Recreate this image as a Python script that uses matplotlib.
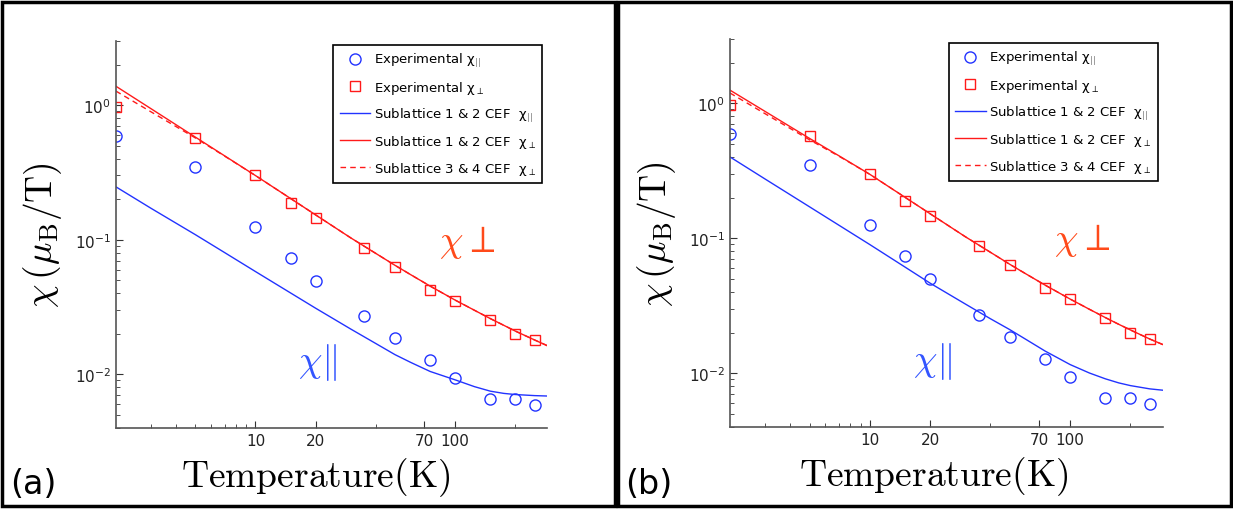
import matplotlib
matplotlib.use("Agg")
import matplotlib.pyplot as plt
from matplotlib.patches import Rectangle
from matplotlib.ticker import FixedLocator, NullFormatter, LogLocator, LogFormatterMathtext

plt.rcParams['mathtext.fontset'] = 'cm'
plt.rcParams['font.family'] = 'DejaVu Sans'

# measured susceptibility
temps = [2, 5, 10, 15, 20, 35, 50, 75, 100, 150, 200, 250]
chi_perp_exp = [0.97, 0.57, 0.30, 0.188, 0.146, 0.087, 0.063, 0.0426, 0.0353, 0.0255, 0.020, 0.0179]
chi_par_exp = [0.59, 0.347, 0.125, 0.0736, 0.0497, 0.0269, 0.0185, 0.0127, 0.0094, 0.00653, 0.00653, 0.0059]

# CEF model curves
temps_fit = [2, 3, 5, 7, 10, 15, 20, 30, 40, 50, 60, 75, 100, 125, 150, 175, 200, 250, 290]
perp_12_a = [1.38, 0.939, 0.578, 0.420, 0.2995, 0.2022, 0.1529, 0.1032, 0.0792, 0.0645, 0.0549,
             0.0452, 0.0356, 0.0299, 0.02595, 0.02315, 0.02097, 0.0180, 0.0163]
perp_34_a = [1.27, 0.89, 0.57, 0.418, 0.2995, 0.2022, 0.1529, 0.1032, 0.0792, 0.0645, 0.0549,
             0.0452, 0.0356, 0.0299, 0.02595, 0.02315, 0.02097, 0.0180, 0.0163]
par_12_a = [0.247, 0.171, 0.109, 0.0803, 0.058, 0.0402, 0.031, 0.0217, 0.01696, 0.0140, 0.01225,
            0.0105, 0.0091, 0.0081, 0.0075, 0.00722, 0.00708, 0.00695, 0.0069]

perp_12_b = [1.25, 0.868, 0.548, 0.408, 0.297, 0.2005, 0.1516, 0.1024, 0.0786, 0.064, 0.0545,
             0.0449, 0.0354, 0.0297, 0.0258, 0.0230, 0.0209, 0.0179, 0.0163]
perp_34_b = [1.19, 0.835, 0.535, 0.405, 0.297, 0.2005, 0.1516, 0.1024, 0.0786, 0.064, 0.0545,
             0.0449, 0.0354, 0.0297, 0.0258, 0.0230, 0.0209, 0.0179, 0.0163]
par_12_b = [0.40, 0.274, 0.1706, 0.1248, 0.0896, 0.0610, 0.0464, 0.0325, 0.0253, 0.0210, 0.01783,
            0.01458, 0.01158, 0.01002, 0.00908, 0.00847, 0.00809, 0.00765, 0.00748]

x_major = [10, 20, 70, 100]
x_major_labels = ['10', '20', '70', '100']
x_minor = [3, 4, 5, 6, 7, 8, 9, 40, 200]

blue = '#2233ff'
red = '#ff1a1a'

fig = plt.figure(figsize=(12.33, 5.1), dpi=100)

panels = [
    ('(a)', [0.094, 0.159, 0.350, 0.759], perp_12_a, perp_34_a, par_12_a, 0.002, 0.462),
    ('(b)', [0.592, 0.161, 0.351, 0.761], perp_12_b, perp_34_b, par_12_b, 0.501, 0.47),
]

for tag, rect, perp12, perp34, par12, x0, xlab in panels:
    ax = fig.add_axes(rect)
    ax.set_xscale('log')
    ax.set_yscale('log')

    ax.plot(temps, chi_par_exp, 'o', ls='none', mfc='none', mec=blue, ms=8, mew=1,
            label=r'Experimental χ$_{||}$')
    ax.plot(temps, chi_perp_exp, 's', ls='none', mfc='none', mec=red, ms=7, mew=1,
            label=r'Experimental χ$_{\perp}$')
    ax.plot(temps_fit, par12, color=blue, lw=1, label=r'Sublattice 1 & 2 CEF  χ$_{||}$')
    ax.plot(temps_fit, perp12, color=red, lw=1, label=r'Sublattice 1 & 2 CEF  χ$_{\perp}$')
    ax.plot(temps_fit, perp34, color=red, lw=1, ls=(0, (4, 3)), label=r'Sublattice 3 & 4 CEF  χ$_{\perp}$')

    ax.set_xlim(2, 290)
    ax.set_ylim(0.004, 3.0)

    ax.xaxis.set_major_locator(FixedLocator(x_major))
    ax.set_xticklabels(x_major_labels)
    ax.xaxis.set_minor_locator(FixedLocator(x_minor))
    ax.xaxis.set_minor_formatter(NullFormatter())
    ax.yaxis.set_major_locator(LogLocator(base=10, numticks=10))
    ax.yaxis.set_major_formatter(LogFormatterMathtext())
    ax.yaxis.set_minor_locator(LogLocator(base=10, subs=range(2, 10), numticks=20))
    ax.yaxis.set_minor_formatter(NullFormatter())

    for side in ['top', 'right']:
        ax.spines[side].set_visible(False)
    for side in ['left', 'bottom']:
        ax.spines[side].set_color('#555555')
        ax.spines[side].set_linewidth(1.2)
    ax.tick_params(which='both', direction='in', colors='#333333', labelcolor='#222222', labelsize=11)
    ax.tick_params(which='major', length=5)
    ax.tick_params(which='minor', length=3)

    ax.set_xlabel(r'$\mathrm{Temperature(K)}$', fontsize=27)
    ax.xaxis.set_label_coords(xlab, -0.07)
    ax.set_ylabel(r'$\chi\,(\mu_{\mathrm{B}}/\mathrm{T})$', fontsize=27, labelpad=8)

    ax.text(115, 0.097, r'$\chi\perp$', color='#ff4a1a', fontsize=27, ha='center', va='center')
    ax.text(20.5, 0.0125, r'$\chi\|$', color='#3355ff', fontsize=27, ha='center', va='center')

    leg = ax.legend(loc='upper right', bbox_to_anchor=(0.988, 0.99), fontsize=9.5,
                    frameon=True, fancybox=False, edgecolor='black', framealpha=1,
                    handlelength=2.3, labelspacing=0.72, borderpad=0.5, handletextpad=0.25,
                    borderaxespad=0)
    leg.get_frame().set_linewidth(1.2)

    fig.text(x0 + 0.006, 0.05, tag, fontsize=24, ha='left', va='center')
    fig.add_artist(Rectangle((x0, 0.005), 0.497, 0.99, transform=fig.transFigure,
                             fill=False, edgecolor='black', lw=2.5))

fig.savefig('out.png', dpi=100)
